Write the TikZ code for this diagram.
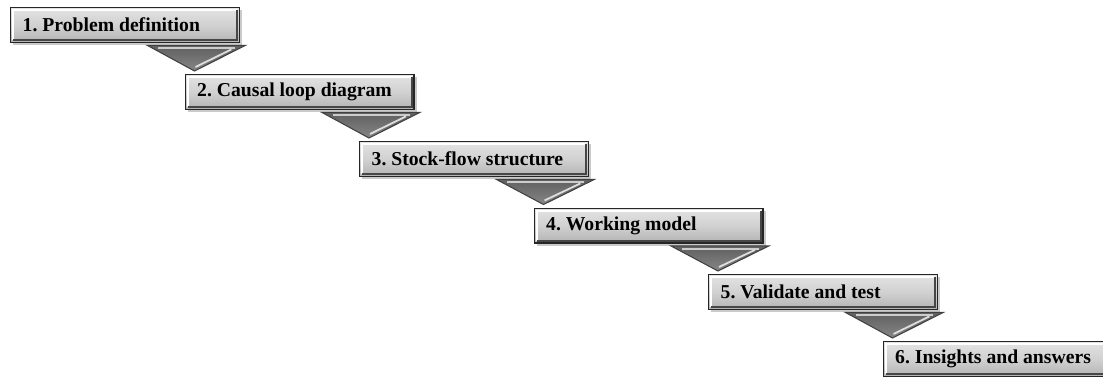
\documentclass[tikz,border=0pt]{standalone}
\usepackage{fontspec}
\setmainfont{Liberation Serif}
\usetikzlibrary{calc,shadows}
\frenchspacing

\begin{document}
\begin{tikzpicture}
          [x=0.02cm,y=-0.02cm,
           stepbox/.style={draw=black!85, line width=0.8pt, anchor=north west,
             top color=gray!22, bottom color=gray!60, middle color=gray!36,
             minimum height=0.7cm, inner xsep=0.1cm,
             text width=4.38cm, align=flush left, font=\bfseries\fontsize{11.2}{13}\selectfont,
             execute at begin node={\hspace*{0.14cm}},
             drop shadow={shadow xshift=1.5pt, shadow yshift=-1.5pt, fill=gray!70, opacity=.6},
             path picture={
               \draw[white, line width=1.2pt]
                 ([shift={(1.4pt,1.4pt)}]path picture bounding box.south west)
                 |- ([shift={(-1.4pt,-1.4pt)}]path picture bounding box.north east);
               \draw[gray!55!black, line width=1.2pt]
                 ([shift={(1.4pt,1.4pt)}]path picture bounding box.south west)
                 -| ([shift={(-1.4pt,-1.4pt)}]path picture bounding box.north east);}},
           chev/.style={draw=black!75, line width=0.6pt, top color=gray!75!black, bottom color=gray!95}]
        \useasboundingbox (0,0) rectangle (1103,376);

        \node[stepbox] (s1) at (10,7) {1. Problem definition};
        \node[stepbox] (s2) at (184.5,74) {2. Causal loop diagram};
        \node[stepbox] (s3) at (359,141) {3. Stock-flow structure};
        \node[stepbox] (s4) at (533.5,207.5) {4. Working model};
        \node[stepbox] (s5) at (708,274) {5. Validate and test};
        \node[stepbox] (s6) at (882.5,341) {6. Insights and answers};

        % arrows between the steps
        \foreach \from/\to in {s1/s2, s2/s3, s3/s4, s4/s5, s5/s6} {
          \shade[chev] ($(\from.south east)+(-93,2)$) -- ($(\from.south east)+(5,2)$)
            -- ($(\to.north west)+(10,-3)$) -- cycle;
          \draw[gray!40, line width=1.2pt] ($(\from.south east)+(-82,5)$) -- ($(\from.south east)+(-5,5)$);
          \draw[gray!25, line width=1pt] ($(\from.south east)+(-9,6)$) -- ($(\to.north west)+(11,-7)$);
        }
      \end{tikzpicture}
\end{document}
